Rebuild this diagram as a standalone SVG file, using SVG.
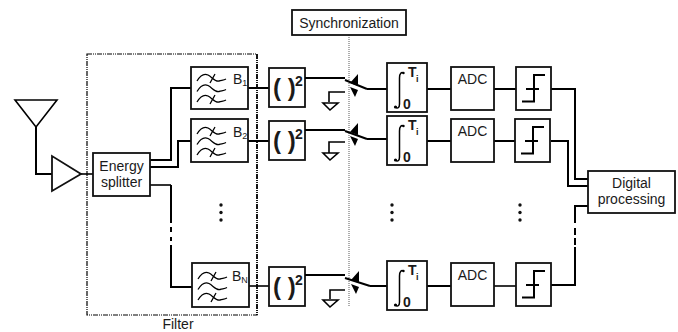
<svg xmlns="http://www.w3.org/2000/svg" xmlns:xlink="http://www.w3.org/1999/xlink" width="678" height="332" viewBox="0 0 678 332">
<style>
text{font-family:"Liberation Sans",Arial,sans-serif;fill:#1a1a1a}
.b{fill:#fff;stroke:#111;stroke-width:1.8}
.w{fill:none;stroke:#000;stroke-width:2}
.t{fill:none;stroke:#000;stroke-width:1.6}
.wv{fill:none;stroke:#000;stroke-width:1.3}
.l{font-size:14px;text-anchor:middle}
.n{font-size:14px}
.s{font-size:9px}
.sq{font-weight:bold;font-size:24px}
.sup{font-weight:bold;font-size:14px}
.d{fill:#111}
</style>
<defs>
<g id="wave" class="wv">
<path d="M6 15C9 10 13 7 17 9S24 16 28 15S33 14 35 13"/>
<path d="M6 25.500C9 20.500 13 17.500 17 19.500S24 26.500 28 25.500S33 24.500 35 23.500"/>
<path d="M6 36C9 31 13 28 17 30S24 37 28 36S33 35 35 34"/>
<path d="M19 17L24 8M19 38L24 29"/>
</g>
<g id="square">
<rect class="b" width="36" height="39"/>
<text x="4" y="28" class="sq">( )</text>
<text x="26" y="18" class="sup">2</text>
</g>
<g id="arrows"><path d="M53 -4L45 5L53 8ZM50 19L45 9L53 12Z" fill="#000"/></g>
<g id="gnd"><path class="t" d="M-7 0H8L0 7Z"/></g>
<g id="integ">
<rect class="b" width="40" height="49"/>
<path d="M8.500 44C10.500 46 12.500 45 12.500 41V15C12.500 10 14.500 9 16.500 10" fill="none" stroke="#000" stroke-width="1.500"/>
<circle cx="8.500" cy="44" r="1.600" fill="#000"/>
<circle cx="16.500" cy="10" r="1.200" fill="#000"/>
<text x="21" y="14" class="sup">T</text>
<text x="29" y="19" class="s" font-weight="bold">i</text>
<text x="16" y="46" class="sup">0</text>
</g>
<g id="adc">
<rect class="b" width="43" height="43"/>
<text x="21.500" y="17" class="l">ADC</text>
</g>
<g id="step">
<rect class="b" width="35" height="43"/>
<path class="w" d="M6 34.500H18V8H29M10 22H23"/>
</g>
</defs>
<g id="connectors">
<path class="w" d="M36 127V174H52"/>
<path class="t" d="M81 174H93"/>
<path class="w" d="M150 160H171V88H191"/>
<path class="w" d="M150 167H178V141H191"/>
<path class="t" d="M150 185H171"/>
<path class="w" d="M171 185V223M171 227V232M171 237V241M171 245V287H192"/>
<path class="w" d="M248 88H269M248 141H269"/>
<path class="t" d="M249 286H269"/>
<path class="w" d="M367 89H387M367 139H387M370 286H387"/>
<path class="w" d="M427 89H451M427 141H451M427 286H451"/>
<path class="w" d="M494 89H516M494 141H515"/>
<path class="t" d="M494 286H516"/>
<path class="w" d="M551 89H575V179H588"/>
<path class="w" d="M551 141H568V186H588"/>
<path class="w" d="M551 285H575V247M575 245V238M575 235V228M575 223V206H588"/>
<path d="M349 35V307" fill="none" stroke="#777" stroke-width="1.200" stroke-dasharray="1 1"/>
</g>
<g id="filter-frame">
<rect x="87" y="54" width="170" height="261" fill="none" stroke="#000" stroke-width="1.200" stroke-dasharray="5 1 1 1 1 1"/>
<path d="M257 54V315" fill="none" stroke="#000" stroke-width="1.600" stroke-dasharray="5 1 1 1 1 1"/>
<text x="178" y="329" class="l">Filter</text>
</g>
<g id="antenna"><path class="t" d="M15 100H57L36 127Z"/></g>
<g id="amplifier"><path class="b" d="M52 156V191L81 174Z"/></g>
<g id="splitter">
<rect class="b" x="93" y="153" width="57" height="43"/>
<text x="121.500" y="171" class="l">Energy</text>
<text x="121.500" y="187" class="l">splitter</text>
</g>
<g id="filter1"><rect class="b" x="191" y="67" width="57" height="42"/><use xlink:href="#wave" x="191" y="66"/><text x="233" y="84" class="n">B<tspan class="s" dy="2">1</tspan></text></g>
<g id="filter2"><rect class="b" x="191" y="119" width="57" height="43"/><use xlink:href="#wave" x="191" y="119"/><text x="233" y="137" class="n">B<tspan class="s" dy="2">2</tspan></text></g>
<g id="filterN"><rect class="b" x="192" y="263" width="57" height="44"/><use xlink:href="#wave" x="192" y="264"/><text x="232" y="281" class="n">B<tspan class="s" dy="2">N</tspan></text></g>
<g id="square1"><use xlink:href="#square" x="269" y="68"/></g>
<g id="square2"><use xlink:href="#square" x="269" y="121"/></g>
<g id="square3"><use xlink:href="#square" x="269" y="267"/></g>
<g id="sync"><rect class="b" x="292" y="10" width="114" height="25"/><text x="349" y="28" class="l">Synchronization</text></g>
<g id="switch1"><path class="w" d="M305 78H345M345 80L367 89"/><path class="t" d="M345 92H329V102"/><use xlink:href="#gnd" x="330" y="103"/><use xlink:href="#arrows" x="305" y="78"/></g>
<g id="switch2"><path class="w" d="M305 130H345M345 131L367 139"/><path class="t" d="M345 142H329V153"/><use xlink:href="#gnd" x="330" y="153"/><use xlink:href="#arrows" x="305" y="127"/></g>
<g id="switch3"><path class="w" d="M305 275H345M345 278L370 286"/><path class="t" d="M345 290H330V299"/><use xlink:href="#gnd" x="330" y="300"/><use xlink:href="#arrows" x="306" y="275"/></g>
<g id="integ1"><use xlink:href="#integ" x="387" y="63"/></g>
<g id="integ2"><use xlink:href="#integ" x="387" y="116"/></g>
<g id="integ3"><use xlink:href="#integ" x="387" y="261"/></g>
<g id="adc1"><use xlink:href="#adc" x="451" y="67"/></g>
<g id="adc2"><use xlink:href="#adc" x="451" y="119"/></g>
<g id="adc3"><use xlink:href="#adc" x="451" y="263"/></g>
<g id="step1"><use xlink:href="#step" x="516" y="67"/></g>
<g id="step2"><use xlink:href="#step" x="515" y="119"/></g>
<g id="step3"><use xlink:href="#step" x="516" y="263"/></g>
<g id="digital">
<rect class="b" x="588" y="171" width="87" height="42"/>
<text x="631.500" y="188" class="l">Digital</text>
<text x="631.500" y="204" class="l">processing</text>
</g>
<g id="dots" class="d">
<circle cx="221" cy="205" r="1.700"/><circle cx="221" cy="212.500" r="1.700"/><circle cx="221" cy="220" r="1.700"/>
<circle cx="392" cy="205" r="1.700"/><circle cx="392" cy="212.500" r="1.700"/><circle cx="392" cy="220" r="1.700"/>
<circle cx="520" cy="205" r="1.700"/><circle cx="520" cy="212.500" r="1.700"/><circle cx="520" cy="220" r="1.700"/>
</g>
</svg>
